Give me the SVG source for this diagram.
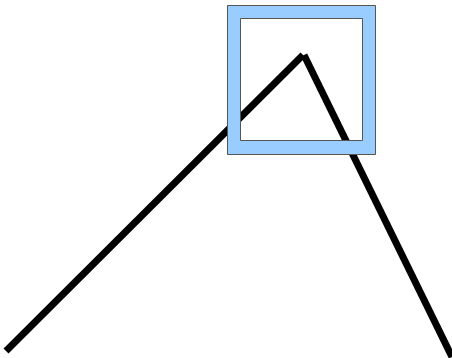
<svg xmlns="http://www.w3.org/2000/svg" width="452" height="358" viewBox="0 0 452 358">
<style>
.ln{fill:none;stroke:#000;stroke-width:7;stroke-linecap:butt}
.frame{fill:#99ccff;fill-rule:evenodd;stroke:#555;stroke-width:1}
</style>
<rect width="452" height="358" fill="#fff"/>
<g id="connectors">
<line class="ln" x1="6" y1="351" x2="303" y2="55"/>
<line class="ln" x1="304" y1="55" x2="452" y2="357"/>
</g>
<g id="frame">
<path class="frame" d="M227.5,5.5 H375.5 V154.5 H227.5 Z M240.5,18.5 V140.5 H362.5 V18.5 Z"/>
</g>
</svg>
